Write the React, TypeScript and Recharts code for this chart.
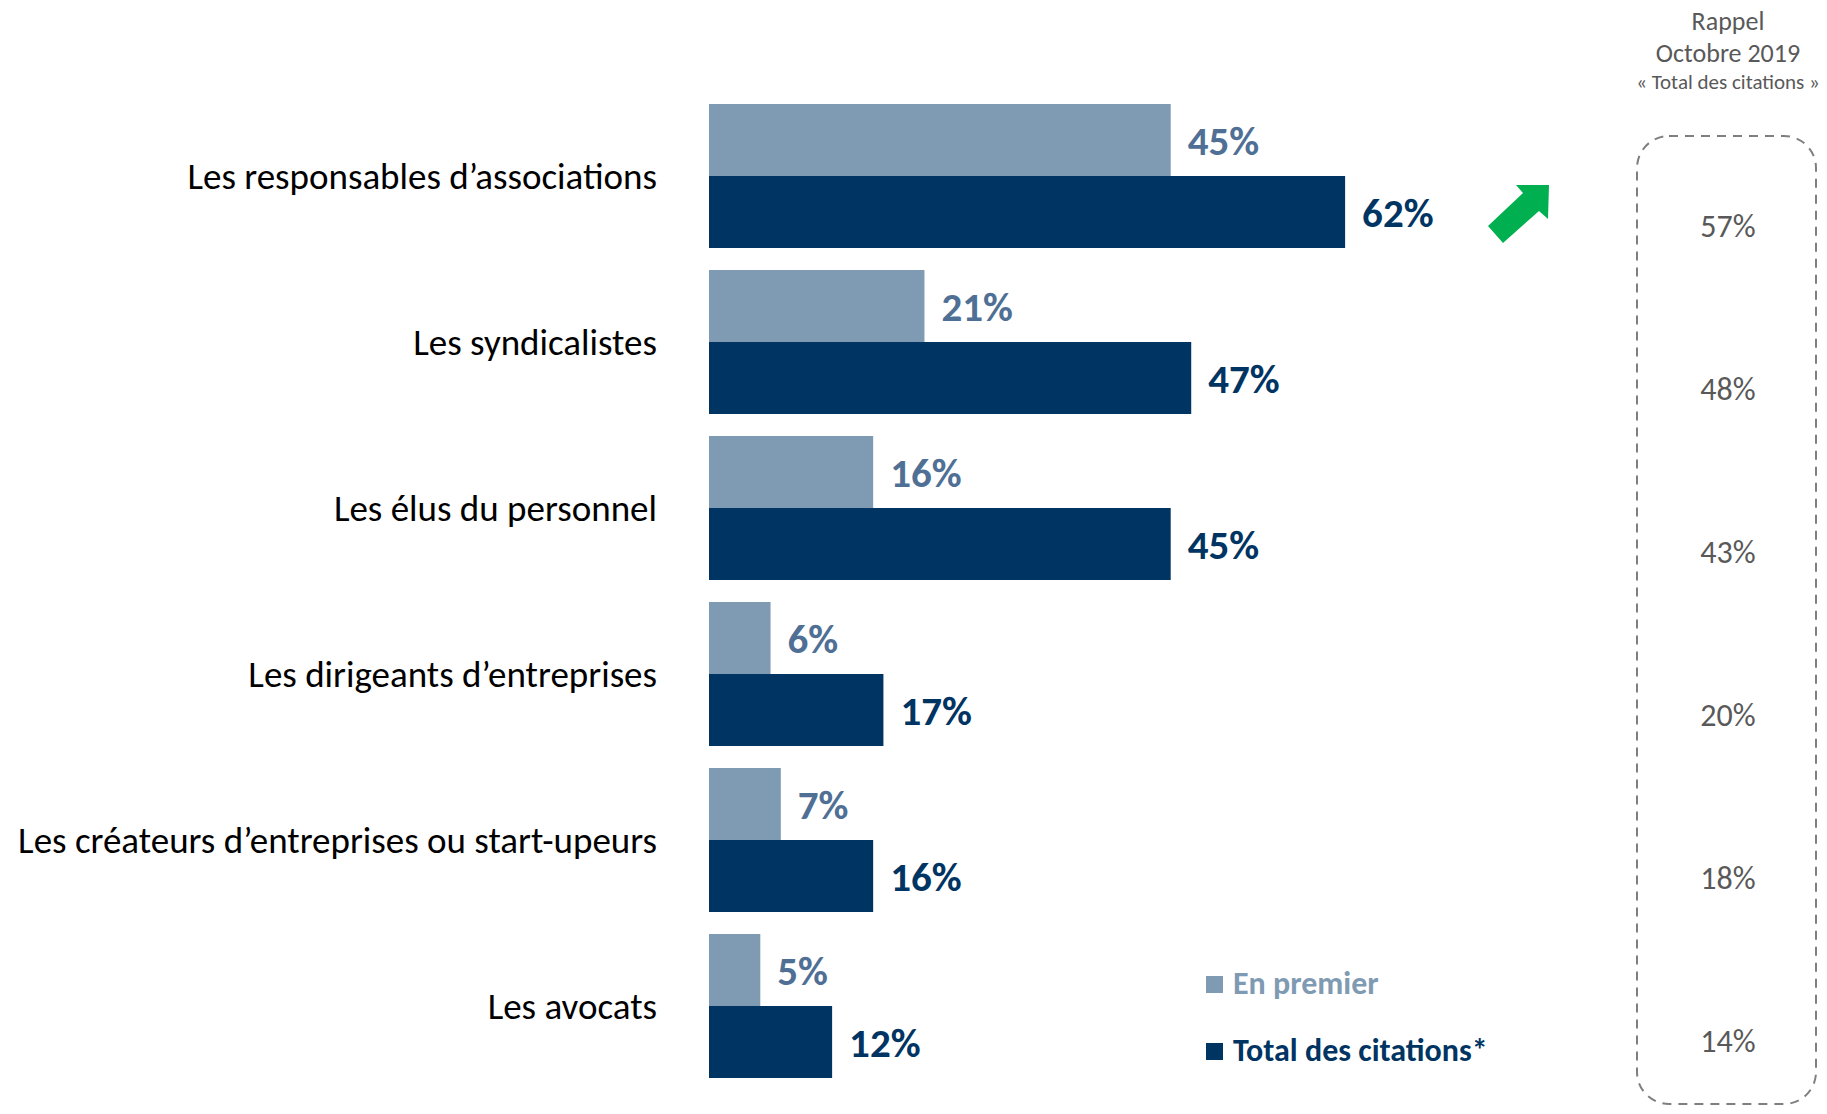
import { BarChart, Bar, XAxis, YAxis, LabelList } from 'recharts'

const CATEGORIES = [
  'Les responsables d’associations',
  'Les syndicalistes',
  'Les élus du personnel',
  'Les dirigeants d’entreprises',
  'Les créateurs d’entreprises ou start-upeurs',
  'Les avocats',
]
const EN_PREMIER = [45, 21, 16, 6, 7, 5]
const TOTAL_CITATIONS = [62, 47, 45, 17, 16, 12]
const RAPPEL_2019 = [57, 48, 43, 20, 18, 14]

const FONT = 'Carlito, Calibri, Lato, sans-serif'
const LIGHT = '#7F9AB3'
const LIGHT_TEXT = '#4F6F95'
const DARK = '#003462'
const GREY = '#595959'

const chartData = CATEGORIES.map((name, i) => ({
  name,
  premier: EN_PREMIER[i],
  total: TOTAL_CITATIONS[i],
}))

const CategoryTick = (props: any) => {
  const { x, y, payload } = props
  return (
    <text x={x} y={y} dy={13} textAnchor="end" fontSize={37} fill="#000" fontFamily={FONT}>
      {payload.value}
    </text>
  )
}

// legend drawn outside the chart so it doesn't eat the plot height
const LegendBlock = () => (
  <div
    style={{
      position: 'absolute',
      left: 1206,
      top: 968,
      fontFamily: FONT,
      fontWeight: 700,
      fontSize: 32,
      lineHeight: '32px',
    }}
  >
    <div style={{ display: 'flex', alignItems: 'center', color: LIGHT, height: 32 }}>
      <span style={{ width: 17, height: 17, background: LIGHT, marginRight: 10 }} />
      En premier
    </div>
    <div style={{ display: 'flex', alignItems: 'center', color: DARK, height: 32, marginTop: 35 }}>
      <span style={{ width: 17, height: 17, background: DARK, marginRight: 10 }} />
      Total des citations*
    </div>
  </div>
)

export default function App() {
  return (
    <div style={{ position: 'absolute', left: 0, top: 0, width: 1827, height: 1114, background: '#fff' }}>
      <BarChart
        width={1827}
        height={1114}
        data={chartData}
        layout="vertical"
        margin={{ top: 93, right: 92, bottom: 25, left: 0 }}
        barSize={72}
        barGap={0}
      >
        <XAxis type="number" domain={[0, 100]} hide />
        <YAxis
          type="category"
          dataKey="name"
          width={709}
          axisLine={false}
          tickLine={false}
          tickSize={0}
          tickMargin={52}
          tick={<CategoryTick />}
          interval={0}
        />
        <Bar dataKey="premier" name="En premier" fill={LIGHT} isAnimationActive={false}>
          <LabelList
            dataKey="premier"
            position="right"
            offset={17}
            formatter={(v: any) => `${v}%`}
            fill={LIGHT_TEXT}
            fontSize={41}
            fontWeight={700}
            fontFamily={FONT}
          />
        </Bar>
        <Bar dataKey="total" name="Total des citations*" fill={DARK} isAnimationActive={false}>
          <LabelList
            dataKey="total"
            position="right"
            offset={17}
            formatter={(v: any) => `${v}%`}
            fill={DARK}
            fontSize={41}
            fontWeight={700}
            fontFamily={FONT}
          />
        </Bar>
      </BarChart>

      <LegendBlock />

      <svg
        width={1827}
        height={1114}
        style={{ position: 'absolute', left: 0, top: 0, pointerEvents: 'none' }}
      >
        <g fontFamily={FONT} fill={GREY} textAnchor="middle">
          <text x={1728} y={30} fontSize={26}>Rappel</text>
          <text x={1728} y={62} fontSize={26}>Octobre 2019</text>
          <text x={1728} y={89} fontSize={21}>«  Total des citations »</text>
          {RAPPEL_2019.map((v, i) => (
            <text key={i} x={1728} y={237 + i * 163} fontSize={32}>
              {v}%
            </text>
          ))}
        </g>
        <rect
          x={1637}
          y={136}
          width={179}
          height={968}
          rx={32}
          fill="none"
          stroke="#7F7F7F"
          strokeWidth={2}
          strokeDasharray="9 7"
        />
        <polygon
          points="1488,226 1523,193 1516,185 1549,185 1548,219 1539,211 1503,243"
          fill="#00B050"
        />
      </svg>
    </div>
  )
}
